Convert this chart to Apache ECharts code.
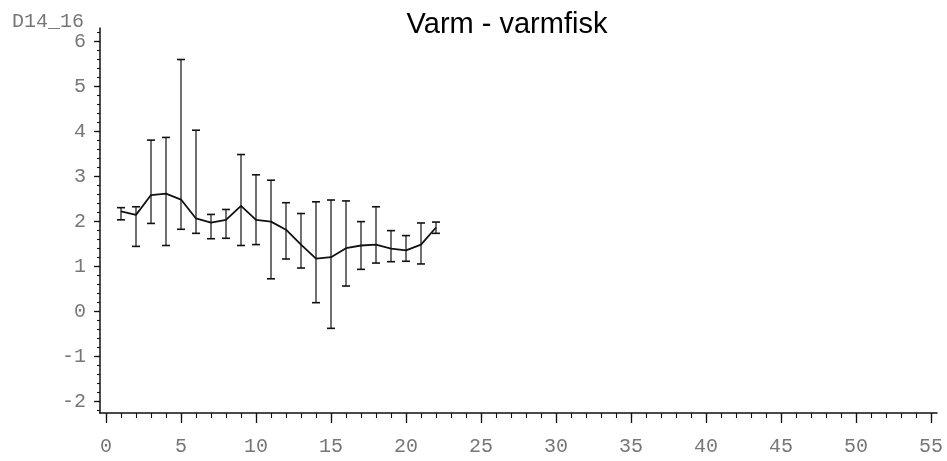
<!DOCTYPE html>
<html>
<head>
<meta charset="utf-8">
<title>Varm - varmfisk</title>
<script src="https://cdn.jsdelivr.net/npm/echarts@6/dist/echarts.min.js"></script>
<style>
  html, body { margin: 0; padding: 0; background: #fff; }
  #chart { width: 947px; height: 461px; }
</style>
</head>
<body>
<div id="chart"></div>
<script>
// Sampling positions (x) and the measured means with their error-bar limits
const positions = [1, 2, 3, 4, 5, 6, 7, 8, 9, 10, 11, 12, 13, 14, 15, 16, 17, 18, 19, 20, 21, 22];
const means = [2.23, 2.15, 2.59, 2.62, 2.49, 2.07, 1.98, 2.04, 2.35, 2.04, 2.00, 1.82, 1.49, 1.18, 1.21, 1.41, 1.47, 1.49, 1.40, 1.36, 1.49, 1.87];
const upper = [2.31, 2.33, 3.81, 3.87, 5.60, 4.03, 2.16, 2.27, 3.49, 3.04, 2.92, 2.42, 2.18, 2.44, 2.48, 2.46, 2.00, 2.33, 1.80, 1.69, 1.97, 1.99];
const lower = [2.04, 1.45, 1.96, 1.47, 1.83, 1.74, 1.62, 1.63, 1.47, 1.49, 0.73, 1.17, 0.97, 0.20, -0.37, 0.57, 0.94, 1.08, 1.11, 1.12, 1.06, 1.74];

// Axis tick labels
const xTickLabels = [0, 5, 10, 15, 20, 25, 30, 35, 40, 45, 50, 55];
const yTickLabels = [-2, -1, 0, 1, 2, 3, 4, 5, 6];

const chartTitle = 'Varm - varmfisk';
const yName = 'D14_16';

// Minor tick positions: every unit on x, every 0.2 on y
const xMinor = [];
for (let v = 0; v <= 55; v++) xMinor.push(v);
const yMinor = [];
for (let k = -11; k <= 31; k++) yMinor.push(Math.round(k * 0.2 * 10) / 10);

const X_MIN = -0.4, X_MAX = 55.4;
const Y_MIN = -2.25, Y_MAX = 6.3;

const monoLabel = {
  fontFamily: '"Liberation Mono", "DejaVu Sans Mono", monospace',
  fontSize: 20,
  color: '#777'
};

const meanLine = positions.map((x, i) => [x, means[i]]);
const bars = positions.map((x, i) => [x, lower[i], upper[i]]);

const chart = echarts.init(document.getElementById('chart'), null, { renderer: 'canvas' });

chart.setOption({
  backgroundColor: '#fff',
  animation: false,
  title: {
    text: chartTitle,
    left: 502,
    textAlign: 'center',
    top: 5,
    textStyle: {
      fontFamily: '"Liberation Sans", Arial, sans-serif',
      fontWeight: 'normal',
      fontSize: 29,
      color: '#000'
    }
  },
  grid: {
    left: 100, right: 10, top: 28, bottom: 48,
    containLabel: false,
    outerBoundsMode: 'none'
  },
  xAxis: [
    {
      type: 'value', min: X_MIN, max: X_MAX, position: 'bottom',
      axisLine: { show: true, onZero: false, lineStyle: { color: '#111', width: 1.5 } },
      axisTick: { show: true, customValues: xTickLabels, length: 10, lineStyle: { color: '#111', width: 1.3 } },
      axisLabel: { show: true, customValues: xTickLabels, margin: 24, ...monoLabel },
      splitLine: { show: false }
    },
    {
      type: 'value', min: X_MIN, max: X_MAX, position: 'bottom',
      axisLine: { show: false, onZero: false },
      axisTick: { show: true, customValues: xMinor, length: 5, lineStyle: { color: '#111', width: 1.1 } },
      axisLabel: { show: false },
      splitLine: { show: false }
    }
  ],
  yAxis: [
    {
      type: 'value', min: Y_MIN, max: Y_MAX, position: 'left',
      name: yName,
      nameLocation: 'end',
      nameGap: 6,
      nameTextStyle: {
        ...monoLabel,
        align: 'right',
        verticalAlign: 'middle',
        padding: [0, 16, 0, 0]
      },
      axisLine: { show: true, onZero: false, lineStyle: { color: '#111', width: 1.5 } },
      axisTick: { show: true, customValues: yTickLabels, length: 6, lineStyle: { color: '#111', width: 1.3 } },
      axisLabel: { show: true, customValues: yTickLabels, margin: 14, ...monoLabel },
      splitLine: { show: false }
    },
    {
      type: 'value', min: Y_MIN, max: Y_MAX, position: 'left',
      axisLine: { show: false, onZero: false },
      axisTick: { show: true, customValues: yMinor, length: 3, lineStyle: { color: '#111', width: 1.1 } },
      axisLabel: { show: false },
      splitLine: { show: false }
    }
  ],
  series: [
    {
      type: 'custom',
      xAxisIndex: 0, yAxisIndex: 0,
      data: bars,
      renderItem: function (params, api) {
        const x = api.value(0);
        const lo = api.coord([x, api.value(1)]);
        const hi = api.coord([x, api.value(2)]);
        const half = 4;
        const style = { stroke: '#111', lineWidth: 1.2 };
        return {
          type: 'group',
          children: [
            { type: 'line', shape: { x1: lo[0], y1: lo[1], x2: hi[0], y2: hi[1] }, style },
            { type: 'line', shape: { x1: hi[0] - half, y1: hi[1], x2: hi[0] + half, y2: hi[1] }, style: { stroke: '#111', lineWidth: 1.6 } },
            { type: 'line', shape: { x1: lo[0] - half, y1: lo[1], x2: lo[0] + half, y2: lo[1] }, style: { stroke: '#111', lineWidth: 1.6 } }
          ]
        };
      },
      z: 3
    },
    {
      type: 'line',
      xAxisIndex: 0, yAxisIndex: 0,
      data: meanLine,
      showSymbol: false,
      symbol: 'none',
      lineStyle: { color: '#111', width: 1.8 },
      z: 4
    }
  ]
});
</script>
</body>
</html>
